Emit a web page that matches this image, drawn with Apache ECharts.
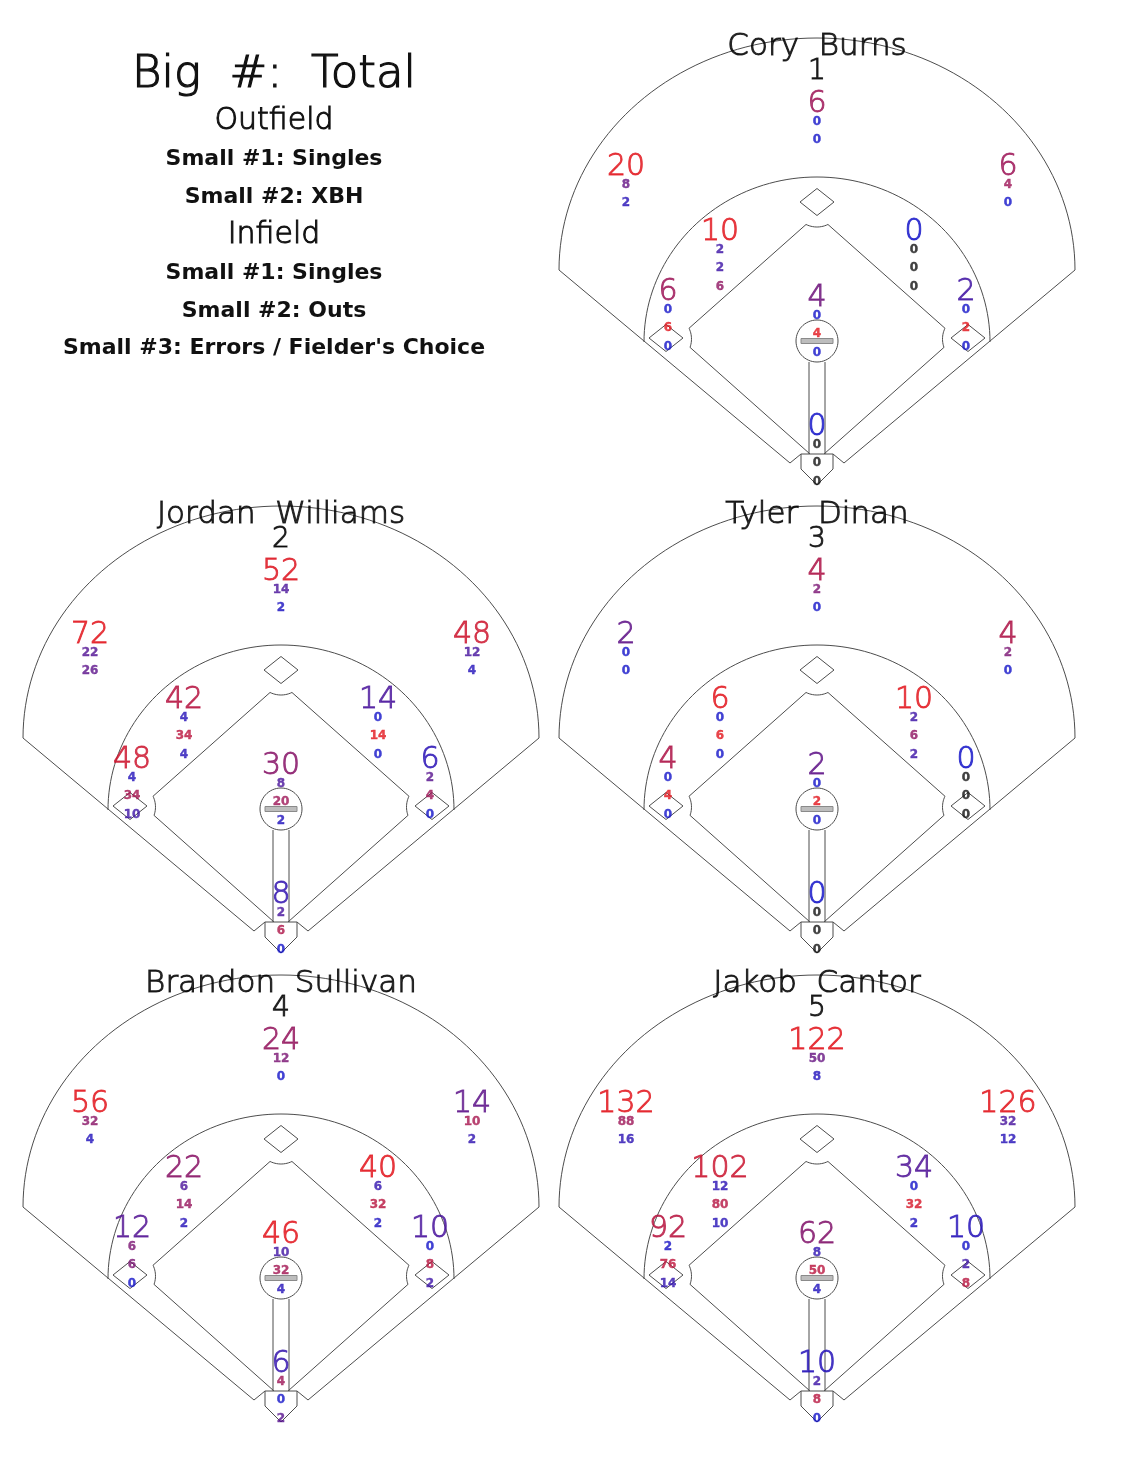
<!DOCTYPE html>
<html><head><meta charset="utf-8">
<script src="https://cdn.jsdelivr.net/npm/echarts@6/dist/echarts.min.js"></script>
<style>html,body{margin:0;padding:0;background:#fff}#chart{width:1121px;height:1463px}</style>
</head><body><div id="chart"></div>
<script>
// ---------------- DATA ----------------
const players = ['Cory  Burns', 'Jordan  Williams', 'Tyler  Dinan', 'Brandon  Sullivan', 'Jakob  Cantor'];
const playerNumbers = ['1', '2', '3', '4', '5'];
// order of fielding spots in every row below
const spots = ['CF', 'LF', 'RF', 'SS', '2B', '3B', '1B', 'P', 'C'];
// Big #: Total
const totals = [
  [6, 20, 6, 10, 0, 6, 2, 4, 0],
  [52, 72, 48, 42, 14, 48, 6, 30, 8],
  [4, 2, 4, 6, 10, 4, 0, 2, 0],
  [24, 56, 14, 22, 40, 12, 10, 46, 6],
  [122, 132, 126, 102, 34, 92, 10, 62, 10]
];
// Small #1: Singles
const singles = [
  [0, 8, 4, 2, 0, 0, 0, 0, 0],
  [14, 22, 12, 4, 0, 4, 2, 8, 2],
  [2, 0, 2, 0, 2, 0, 0, 0, 0],
  [12, 32, 10, 6, 6, 6, 0, 10, 4],
  [50, 88, 32, 12, 0, 2, 0, 8, 2]
];
// Small #2: XBH (outfield) / Outs (infield)
const xbhOrOuts = [
  [0, 2, 0, 2, 0, 6, 2, 4, 0],
  [2, 26, 4, 34, 14, 34, 4, 20, 6],
  [0, 0, 0, 6, 6, 4, 0, 2, 0],
  [0, 4, 2, 14, 32, 6, 8, 32, 0],
  [8, 16, 12, 80, 32, 76, 2, 50, 8]
];
// Small #3: Errors / Fielder's Choice (infield only)
const errorsFC = [
  [null, null, null, 6, 0, 0, 0, 0, 0],
  [null, null, null, 4, 0, 10, 0, 2, 0],
  [null, null, null, 0, 2, 0, 0, 0, 0],
  [null, null, null, 2, 2, 0, 2, 4, 2],
  [null, null, null, 10, 2, 14, 8, 4, 0]
];
const legendLines = ['Big  #:  Total', 'Outfield', 'Small #1: Singles', 'Small #2: XBH', 'Infield',
  'Small #1: Singles', 'Small #2: Outs', "Small #3: Errors / Fielder's Choice"];

// ---------------- LAYOUT ----------------
const panelCenters = [[817, 270], [281, 738], [817, 738], [281, 1207], [817, 1207]];
const X_RANGE = [-270, 270], Y_RANGE = [-226, 240];
const spotPos = {
  CF: [0, 166], LF: [-191, 103], RF: [191, 103],
  SS: [-97, 38], '2B': [97, 38], '3B': [-149, -22], '1B': [149, -22],
  P: [0, -28], C: [0, -157]
};
const smallOffsets = [-17.5, -36, -54.5];
const NAME_Y = 223, NUM_Y = 198;

const BLUE = [18, 18, 200], RED = [226, 22, 30];
function mix(t) {
  t = Math.max(0, Math.min(1, t));
  const c = BLUE.map((b, i) => Math.round(b + (RED[i] - b) * t));
  return 'rgb(' + c.join(',') + ')';
}
function bigColor(v, row) {
  const mean = row.reduce((a, b) => a + b, 0) / row.length;
  return mean > 0 ? mix(v / (1.5 * mean)) : mix(0);
}
function smallColor(s, big) { return big > 0 ? mix(s / big) : '#111'; }

const BIG_FONT = { fontSize: 30, fontFamily: 'DejaVu Sans', fontWeight: 200, textBorderWidth: 0.9 };
const SMALL_FONT = { fontSize: 12, fontFamily: 'DejaVu Sans', fontWeight: 'bold', textBorderWidth: 0.4 };
const NAME_FONT = { fontSize: 31, fontFamily: 'DejaVu Sans', fontWeight: 200, textBorderWidth: 1.0 };
const NUM_FONT = { fontSize: 28, fontFamily: 'DejaVu Sans', fontWeight: 200, textBorderWidth: 1.0 };

// ---------------- FIELD DRAWING ----------------
function ellipsePts(P, cx, cy, rx, ry, a0, a1, step) {
  const pts = [];
  const n = Math.max(2, Math.ceil(Math.abs(a1 - a0) / step));
  for (let i = 0; i <= n; i++) {
    const a = (a0 + (a1 - a0) * i / n) * Math.PI / 180;
    pts.push(P(cx + rx * Math.cos(a), cy + ry * Math.sin(a)));
  }
  return pts;
}
const LINE_COLOR = '#4d4d4d';
function fieldRender(params, api) {
  const P = (x, y) => api.coord([x, y]);
  const line = { stroke: LINE_COLOR, lineWidth: 1, fill: null };
  const closed = { stroke: LINE_COLOR, lineWidth: 1, fill: '#fff' };
  const ch = [];
  // outer fence and foul lines
  const outer = [P(-16, -184), P(-27, -193)].concat(ellipsePts(P, 0, 0, 258, 232, 180, 0, 2)).concat([P(27, -193), P(16, -184)]);
  ch.push({ type: 'polyline', shape: { points: outer }, style: line });
  // infield arc
  ch.push({ type: 'polyline', shape: { points: ellipsePts(P, 0, -72, 173, 165, 180, 0, 2) }, style: line });
  // grass diamond with notches
  let inner = [P(-7, -184)];
  inner = inner.concat(ellipsePts(P, -150, -69, 24.5, 24.5, -20, 26, 4));
  inner = inner.concat(ellipsePts(P, 0, 68, 25, 25, -116, -64, 4));
  inner = inner.concat(ellipsePts(P, 150, -69, 24.5, 24.5, 154, 200, 4));
  inner.push(P(7, -184));
  ch.push({ type: 'polyline', shape: { points: inner }, style: line });
  // bases
  [[-151, -68], [0, 68], [151, -68]].forEach(b => {
    ch.push({ type: 'polygon', shape: { points: [P(b[0] - 17, b[1]), P(b[0], b[1] + 13.5), P(b[0] + 17, b[1]), P(b[0], b[1] - 13.5)] },
      style: closed });
  });
  // path from mound to plate
  ch.push({ type: 'polyline', shape: { points: [P(-8, -92), P(-8, -184)] }, style: line });
  ch.push({ type: 'polyline', shape: { points: [P(8, -92), P(8, -184)] }, style: line });
  // mound
  ch.push({ type: 'polygon', shape: { points: ellipsePts(P, 0, -71, 21, 21, 0, 360, 6) }, style: closed });
  // rubber
  ch.push({ type: 'polygon', shape: { points: [P(-16, -68.5), P(16, -68.5), P(16, -73.5), P(-16, -73.5)] },
    style: { stroke: '#8a8a8a', lineWidth: 1, fill: '#bdbdbd' } });
  // home plate box
  ch.push({ type: 'polygon', shape: { points: [P(-16, -184), P(16, -184), P(16, -199), P(0, -215), P(-16, -199)] },
    style: closed });
  return { type: 'group', children: ch };
}

// ---------------- OPTION ----------------
const grids = [], xAxes = [], yAxes = [], series = [];
panelCenters.forEach((c, k) => {
  grids.push({ left: c[0] + X_RANGE[0], top: c[1] - Y_RANGE[1], width: X_RANGE[1] - X_RANGE[0], height: Y_RANGE[1] - Y_RANGE[0] });
  xAxes.push({ type: 'value', gridIndex: k, min: X_RANGE[0], max: X_RANGE[1], show: false });
  yAxes.push({ type: 'value', gridIndex: k, min: Y_RANGE[0], max: Y_RANGE[1], show: false });
  series.push({ type: 'custom', xAxisIndex: k, yAxisIndex: k, renderItem: fieldRender, data: [[0, 0]], silent: true, z: 1, clip: false });

  const items = [];
  const lbl = (x, y, text, color, font) => items.push({
    value: [x, y],
    label: Object.assign({ show: true, position: 'inside', formatter: text, color: color,
      textBorderColor: font.textBorderWidth ? color : 'transparent' }, font)
  });
  lbl(0, NAME_Y, players[k], '#000', NAME_FONT);
  lbl(0, NUM_Y, playerNumbers[k], '#000', NUM_FONT);
  spots.forEach((s, i) => {
    const p = spotPos[s];
    const big = totals[k][i];
    lbl(p[0], p[1], String(big), bigColor(big, totals[k]), BIG_FONT);
    const smalls = [singles[k][i], xbhOrOuts[k][i], errorsFC[k][i]];
    smalls.forEach((v, j) => {
      if (v === null || v === undefined) return;
      lbl(p[0], p[1] + smallOffsets[j], String(v), smallColor(v, big), SMALL_FONT);
    });
  });
  series.push({ type: 'scatter', xAxisIndex: k, yAxisIndex: k, symbolSize: 0, data: items, z: 5, silent: true, clip: false });
});

const legendY = [75, 121, 159, 197, 235, 273, 311, 348];
const legendStyle = [
  { font: '200 45px "DejaVu Sans"', lw: 1.2 }, { font: '200 30px "DejaVu Sans"', lw: 1.0 },
  { font: 'bold 22px "DejaVu Sans"', lw: 0 }, { font: 'bold 22px "DejaVu Sans"', lw: 0 },
  { font: '200 30px "DejaVu Sans"', lw: 1.0 }, { font: 'bold 22px "DejaVu Sans"', lw: 0 },
  { font: 'bold 22px "DejaVu Sans"', lw: 0 }, { font: 'bold 22px "DejaVu Sans"', lw: 0 }
];
const graphic = legendLines.map((t, i) => ({
  type: 'text', x: 274, y: legendY[i], silent: true,
  style: { text: t, x: 0, y: 0, textAlign: 'center', textVerticalAlign: 'middle', font: legendStyle[i].font, fill: '#111',
    stroke: legendStyle[i].lw ? '#111' : null, lineWidth: legendStyle[i].lw }
}));

const chart = echarts.init(document.getElementById('chart'), null, { renderer: 'canvas' });
chart.setOption({
  animation: false,
  backgroundColor: '#fff',
  grid: grids, xAxis: xAxes, yAxis: yAxes, series: series, graphic: graphic
});
</script></body></html>
